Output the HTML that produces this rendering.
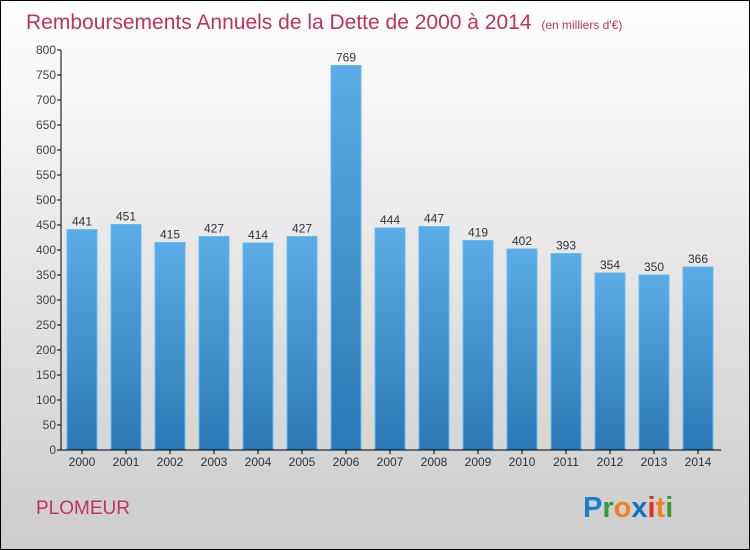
<!DOCTYPE html>
<html><head><meta charset="utf-8"><style>
body{margin:0}
svg{display:block;font-family:"Liberation Sans",sans-serif}
</style></head><body>
<svg id="c" width="750" height="550" xmlns="http://www.w3.org/2000/svg">
<defs>
<linearGradient id="bg" x1="0" y1="0" x2="0" y2="1"><stop offset="0" stop-color="#ffffff"/><stop offset="1" stop-color="#cccccc"/></linearGradient>
<linearGradient id="bar" x1="0" y1="0" x2="0" y2="1"><stop offset="0" stop-color="#5aade6"/><stop offset="1" stop-color="#2a78b5"/></linearGradient>
</defs>
<rect x="0.5" y="0.5" width="749" height="549" fill="url(#bg)" stroke="#000"/>
<text x="26" y="29" font-size="21" fill="#c0325e">Remboursements Annuels de la Dette de 2000 à 2014 <tspan font-size="12" dx="4">(en milliers d'€)</tspan></text>
<g id="plot"></g>
<text x="36" y="514" font-size="19" fill="#c0325e">PLOMEUR</text>
<g font-size="29" font-weight="bold">
<text x="583" y="517"><tspan fill="#1a7fd0">P</tspan><tspan fill="#3a9a3a">r</tspan><tspan fill="#f08020">o</tspan><tspan fill="#1a6fc0">x</tspan><tspan fill="#e03020">i</tspan><tspan fill="#f08020">t</tspan><tspan fill="#3a9a3a">i</tspan></text>
</g>
</svg>
<script>
const years=["2000","2001","2002","2003","2004","2005","2006","2007","2008","2009","2010","2011","2012","2013","2014"];
const values=[441,451,415,427,414,427,769,444,447,419,402,393,354,350,366];
const yTicks=[0,50,100,150,200,250,300,350,400,450,500,550,600,650,700,750,800];
const NS="http://www.w3.org/2000/svg";
const g=document.getElementById('plot');
const y=v=>450-v*0.5;
const x=i=>82+i*44;
function el(t,a,txt){const e=document.createElementNS(NS,t);for(const k in a)e.setAttribute(k,a[k]);if(txt!==undefined)e.textContent=txt;g.appendChild(e);return e;}
yTicks.forEach(t=>{
 const l=el('line',{x1:57,x2:61,y1:y(t),y2:y(t),stroke:'#000'});
 
 
 const tx=el('text',{x:56,y:y(t)+4,'font-size':12,fill:'#444','text-anchor':'end'},t);
 
 
});
values.forEach((v,i)=>{
 const r=el('rect',{x:x(i)-15,y:y(v),width:30,height:450-y(v),fill:'url(#bar)',stroke:'#6bb8ea','stroke-width':1});
 
 
 const lb=el('text',{x:x(i),y:y(v)-4,'font-size':12,fill:'#333','text-anchor':'middle'},v);
 
 
 const tk=el('line',{x1:x(i),x2:x(i),y1:450,y2:454,stroke:'#000'});
 
 
 const xl=el('text',{x:x(i),y:466,'font-size':12,fill:'#333','text-anchor':'middle'},years[i]);
 
 
});
const ya=el('line',{x1:61,x2:61,y1:50,y2:450,stroke:'#000'});


const xa=el('line',{x1:61,x2:721,y1:450,y2:450,stroke:'#000'});


</script>
</body></html>
